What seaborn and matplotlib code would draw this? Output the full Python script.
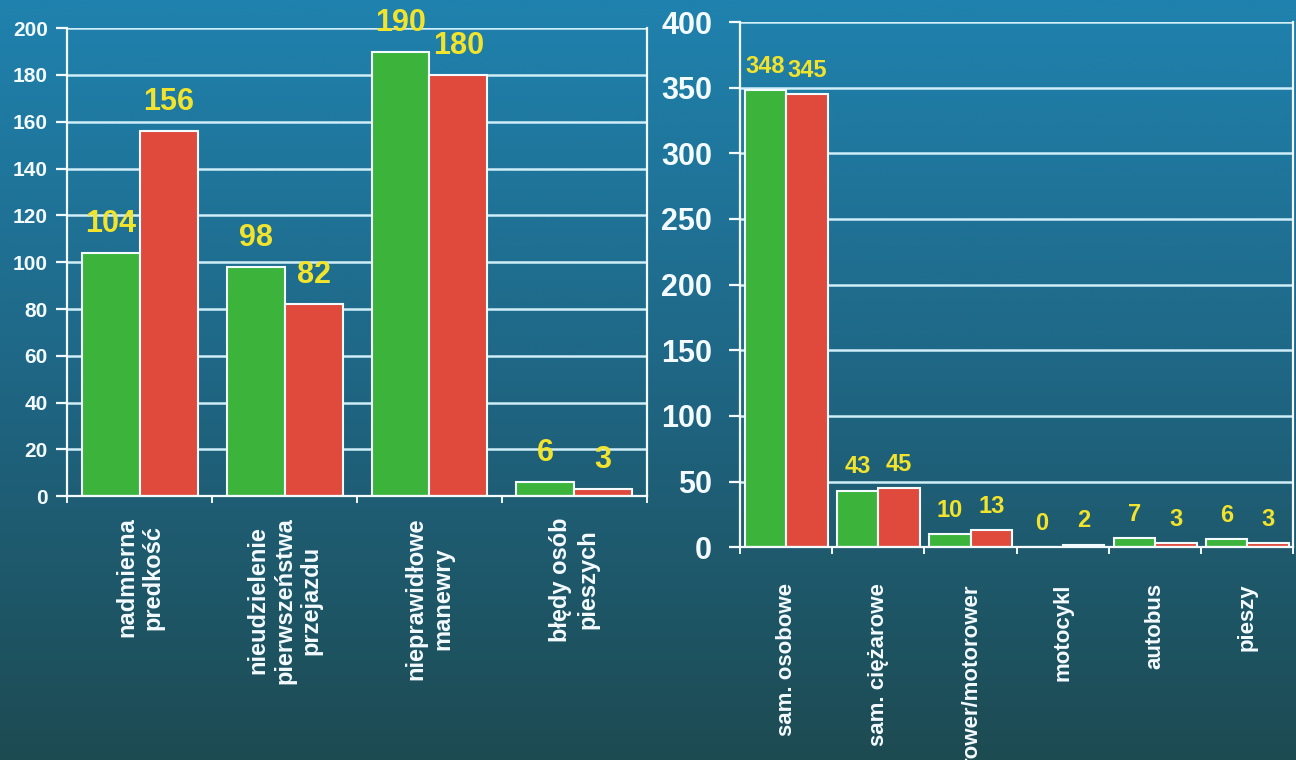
import numpy as np
import pandas as pd
import matplotlib
matplotlib.use("Agg")
import matplotlib.pyplot as plt
import seaborn as sns

# ---- data ----
left_categories = ["nadmierna\npredkość", "nieudzielenie\npierwszeństwa\nprzejazdu",
                   "nieprawidłowe\nmanewry", "błędy osób\npieszych"]
left_series1 = [104, 98, 190, 6]
left_series2 = [156, 82, 180, 3]
left_yticks = [0, 20, 40, 60, 80, 100, 120, 140, 160, 180, 200]

right_categories = ["sam. osobowe", "sam. ciężarowe", "rower/motorower",
                    "motocykl", "autobus", "pieszy"]
right_series1 = [348, 43, 10, 0, 7, 6]
right_series2 = [345, 45, 13, 2, 3, 3]
right_yticks = [0, 50, 100, 150, 200, 250, 300, 350, 400]

series_names = ["seria 1", "seria 2"]

sns.set_theme(style="ticks")
plt.rcParams['font.family'] = ['Liberation Sans', 'DejaVu Sans']
plt.rcParams['font.weight'] = 'bold'

GREEN = "#3cb43c"
RED = "#e04a3c"
YELLOW = "#f2e42c"
WHITE = "#f4fbff"
GRID = "#cfeef8"

fig = plt.figure(figsize=(12.96, 7.6), dpi=100)

# gradient background
bg = fig.add_axes([0, 0, 1, 1], zorder=-10)
top = np.array([0x1f, 0x82, 0xae]) / 255
mid = np.array([0x1f, 0x66, 0x84]) / 255
bot = np.array([0x1d, 0x4b, 0x52]) / 255
t = np.linspace(0, 1, 300)[:, None]
grad = np.where(t < 0.5, top + (mid - top) * (t / 0.5), mid + (bot - mid) * ((t - 0.5) / 0.5))
grad = np.repeat(grad[:, None, :], 2, axis=1)
bg.imshow(grad, aspect='auto', extent=[0, 1, 0, 1])
bg.set_axis_off()


def make_df(cats, s1, s2):
    rows = []
    for c, a, b in zip(cats, s1, s2):
        rows.append({"kat": c, "seria": series_names[0], "wartosc": a})
        rows.append({"kat": c, "seria": series_names[1], "wartosc": b})
    return pd.DataFrame(rows)


def style_axes(ax, yticks, ylim, ticksize, tickpad, catsize, catpad):
    ax.set_facecolor('none')
    ax.set_ylim(*ylim)
    ax.set_yticks(yticks)
    ax.set_yticklabels([str(v) for v in yticks])
    ax.yaxis.grid(True, color=GRID, linewidth=1.8, zorder=0)
    ax.set_axisbelow(True)
    for side in ["left", "bottom", "right"]:
        ax.spines[side].set_color(WHITE)
        ax.spines[side].set_linewidth(1.6)
    ax.spines["top"].set_visible(False)
    ax.tick_params(axis='y', colors=WHITE, labelcolor=WHITE, length=8, width=1.6,
                   labelsize=ticksize, pad=tickpad)
    n = len(ax.get_xticks())
    ax.set_xticks(np.arange(-0.5, n, 1.0), minor=True)
    ax.tick_params(axis='x', which='minor', colors=WHITE, length=5, width=1.4)
    ax.tick_params(axis='x', which='major', length=0, labelcolor=WHITE,
                   labelsize=catsize, pad=catpad)
    for lab in ax.get_xticklabels():
        lab.set_rotation(90)
        lab.set_multialignment('center')
        lab.set_fontweight('bold')
    for lab in ax.get_yticklabels():
        lab.set_fontweight('bold')
    ax.set_xlabel("")
    ax.set_ylabel("")


def add_values(ax, size, offset):
    for cont in ax.containers:
        ax.bar_label(cont, labels=[f"{int(v)}" for v in cont.datavalues],
                     color=YELLOW, fontsize=size, fontweight='bold',
                     padding=offset, clip_on=False)


# left chart
axL = fig.add_axes([0.052, 0.347, 0.447, 0.616])
dfL = make_df(left_categories, left_series1, left_series2)
sns.barplot(data=dfL, x="kat", y="wartosc", hue="seria", palette=[GREEN, RED],
            width=0.8, edgecolor=WHITE, linewidth=1.5, legend=False, ax=axL,
            saturation=1, errorbar=None)
axL.set_xlim(-0.5, len(left_categories) - 0.5)
style_axes(axL, left_yticks, (0, 200), 15, 6, 17, 15)
add_values(axL, 22, 10)

# right chart
axR = fig.add_axes([0.571, 0.280, 0.427, 0.691])
dfR = make_df(right_categories, right_series1, right_series2)
sns.barplot(data=dfR, x="kat", y="wartosc", hue="seria", palette=[GREEN, RED],
            width=0.9, edgecolor=WHITE, linewidth=1.5, legend=False, ax=axR,
            saturation=1, errorbar=None)
axR.set_xlim(-0.5, len(right_categories) - 0.5)
style_axes(axR, right_yticks, (0, 400), 22, 12, 16, 26)
add_values(axR, 17, 9)

fig.savefig("out.png", dpi=100)
